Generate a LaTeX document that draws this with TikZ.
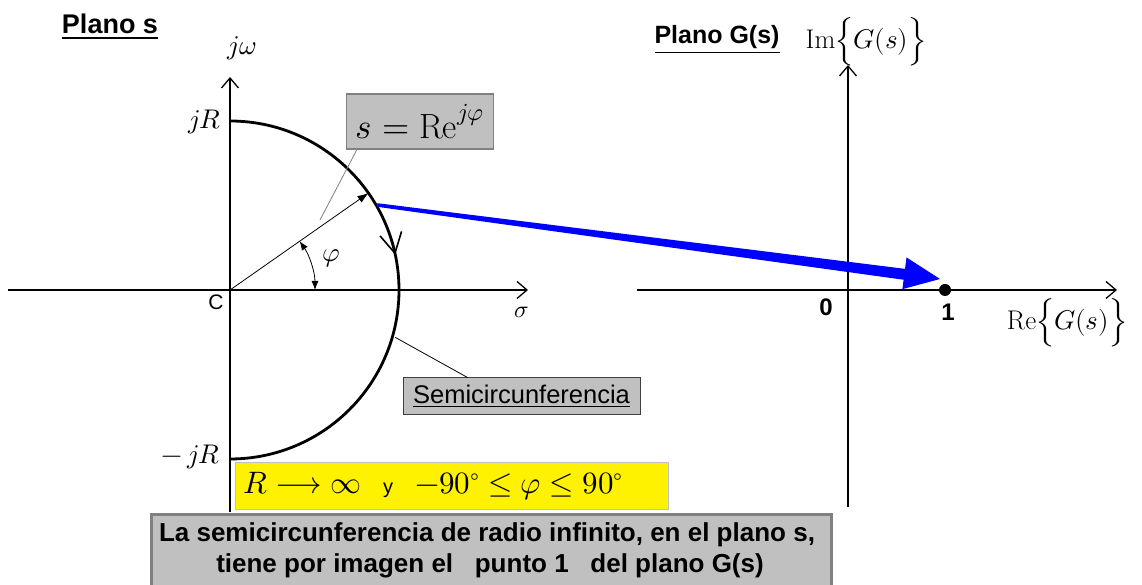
\documentclass[tikz,border=0pt]{standalone}
\usepackage{fontspec}
\usepackage{unicode-math}
\newfontfamily\sansf{Liberation Sans}
\usetikzlibrary{arrows.meta,calc}
\definecolor{boxgray}{HTML}{C0C0C0}
\definecolor{edgegray}{HTML}{808080}
\newcommand\fsz[1]{\fontsize{#1}{#1}\selectfont}
\tikzset{
  axis/.style={line width=1.6pt, -{Straight Barb[length=10pt,width=17pt,line width=1.3pt]}},
  lbl/.style={inner sep=0pt},
  mathlbl/.style={inner sep=0pt, font=\fsz{27}},
  boldlbl/.style={inner sep=0pt, font=\sansf\bfseries\fsz{25}},
  graybox/.style={fill=boxgray, inner sep=0pt},
}
\begin{document}
\begin{tikzpicture}[x=1pt,y=1pt]
\useasboundingbox (0,0) rectangle (1142,585);
\fill[white] (0,0) rectangle (1142,585);

% ---------- s plane ----------
\coordinate (O) at (230,295);
\coordinate (Lw) at (8,295);
\coordinate (Le) at (528,295);
\coordinate (Ls) at (230,73);
\coordinate (Ln) at (230,508);
\draw[axis] (Lw) -- (Le);
\draw[axis] (Ls) -- (Ln);

\draw[line width=2.8pt] (O) ++(90:169) coordinate (top)
  arc[start angle=90, end angle=-90, radius=169] coordinate (bot);
\draw[line width=1.6pt, -{Straight Barb[length=20pt,width=22pt,line width=1.6pt]}]
  (O) ++(19:169) arc[start angle=19, end angle=12, radius=169];

\coordinate (P) at ($(O)+(35:169)$);
\draw[line width=0.8pt, -{Latex[length=11pt,width=8pt]}] (O) -- (P);
\draw[line width=0.8pt, {Latex[length=9pt,width=7pt]}-{Latex[length=9pt,width=7pt]}]
  (O) ++(35:85) arc[start angle=35, end angle=0, radius=85];

\node[mathlbl] (jw) at (242,537) {$j\omega$};
\node[mathlbl, anchor=east] (jR) at (221,463) {$jR$};
\node[mathlbl, anchor=east] (mjR) at (220,128) {$-\,jR$};
\node[lbl, font=\sansf\fsz{21}] (C) at (216,283) {C};
\node[lbl, font=\fsz{24}] (sigma) at (522,273) {$\sigma$};
\node[mathlbl] (phi) at (331,327) {$\varphi$};

\node[graybox, draw=edgegray, line width=1.2pt, minimum width=147pt, minimum height=55pt, font=\fsz{35}]
  (sbox) at (420,463.5) {$s=\mathrm{Re}^{j\varphi}$};
\coordinate (sl) at ($(sbox.south west)+(11,0)$);
\coordinate (lp) at (320,365);
\draw[gray, line width=0.8pt] (sl) -- (lp);

\node[graybox, draw=black!75, line width=1pt, minimum width=237pt, minimum height=37pt, font=\sansf\fsz{25.5}]
  (semi) at (521.5,188.5) {\underline{Semicircunferencia}};
\coordinate (semiarc) at ($(O)+(-16:172)$);
\coordinate (semitop) at ($(semi.north west)+(65,0)$);
\draw[line width=0.8pt] (semiarc) -- (semitop);

\node[fill=yellow, draw=black!25, line width=0.8pt, anchor=south west, minimum width=433pt, minimum height=47pt,
  inner sep=0pt] (ybox) at (235,75) {};
\node[lbl, anchor=west, font=\fsz{31}] (ytext) at ($(ybox.west)+(8,0)$)
  {$R\longrightarrow\infty$\hspace{22pt}{\sansf\fsz{20}y}\hspace{22pt}$-90^{\circ}\leq\varphi\leq 90^{\circ}$};

\node[graybox, draw=edgegray, line width=3pt, anchor=south west, minimum width=680pt, minimum height=72pt]
  (bbox) at (150,-3) {};
\node[lbl, font=\sansf\bfseries\fsz{26}] (bl1) at (487,50) {La semicircunferencia de radio infinito, en el plano s,};
\node[lbl, font=\sansf\bfseries\fsz{26}] (bl2) at (490,19) {tiene por imagen el \ \ punto 1 \ \ del plano G(s)};

% ---------- G plane ----------
\coordinate (Rw) at (637,295);
\coordinate (Rr) at (1117,295);
\coordinate (Rs) at (848,78);
\coordinate (Rn) at (848,520);
\draw[axis] (Rw) -- (Rr);
\draw[axis] (Rs) -- (Rn);
\node[circle, fill=black, inner sep=0pt, minimum size=12pt] (one) at (945,295) {};
\node[boldlbl, font=\sansf\bfseries\fsz{24}] (zero) at (826,278) {0};
\node[boldlbl, font=\sansf\bfseries\fsz{24}] (onel) at (948,273) {1};
\node[mathlbl] (relbl) at (1067,262) {$\mathrm{Re}\Bigl\{G(s)\Bigr\}$};
\node[mathlbl] (imlbl) at (866,543) {$\mathrm{Im}\Bigl\{G(s)\Bigr\}$};

\node[boldlbl] (pgs) at (717,545) {\underline{Plano G(s)}};
\node[boldlbl, font=\sansf\bfseries\fsz{27}] (ps) at (110,558) {\underline{Plano s}};

% ---------- blue mapping arrow ----------
\coordinate (bs) at ($(O)+(30:170)$);
\coordinate (bt) at (940,306);
\coordinate (bb) at ($(bt)!36pt!(bs)$);
\fill[blue] ($(bs)!1.8pt!90:(bt)$) -- ($(bb)!5.5pt!90:(bt)$) -- ($(bb)!17pt!90:(bt)$) -- (bt)
  -- ($(bb)!15pt!-90:(bt)$) -- ($(bb)!5.5pt!-90:(bt)$) -- ($(bs)!1.8pt!-90:(bt)$) -- cycle;
\end{tikzpicture}
\end{document}
